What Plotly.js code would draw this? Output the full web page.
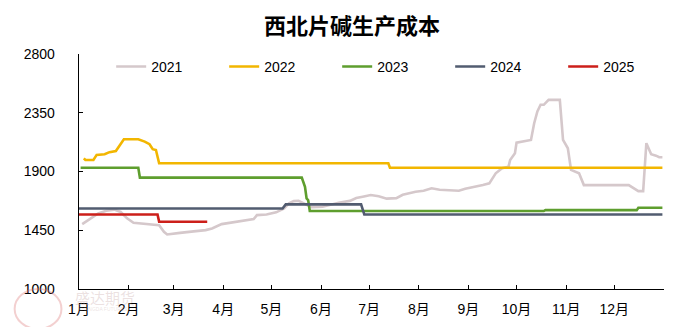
<!DOCTYPE html>
<html>
<head>
<meta charset="utf-8">
<script src="https://cdn.plot.ly/plotly-3.0.1.min.js"></script>
<style>
html,body{margin:0;padding:0;background:#fff;}
#chart{width:700px;height:327px;}
</style>
</head>
<body>
<div id="chart"></div>
<script>
// ---- data (dates as MM-DD, plotted on a common non-leap year) ----
const seriesNames = ['2021', '2022', '2023', '2024', '2025'];
const monthLabels = ['1月','2月','3月','4月','5月','6月','7月','8月','9月','10月','11月','12月',''];

const dates2021 = ['01-03','01-07','01-13','01-18','01-23','01-27','01-31','02-04','02-09','02-14','02-20','02-23','02-25',
  '03-05','03-09','03-15','03-21','03-25','03-31','04-05','04-10','04-15','04-20','04-22','04-28',
  '05-04','05-09','05-12','05-15','05-18','05-22','05-26','06-02','06-06','06-12','06-19','06-23','06-27',
  '07-02','07-07','07-12','07-18','07-22','07-26','07-30','08-04','08-09','08-14','08-20','08-26','08-30',
  '09-04','09-10','09-14','09-18','09-22','09-26','09-27','09-30','10-01','10-10','10-12','10-14','10-16','10-18',
  '10-21','10-28','10-30','11-02','11-04','11-09','11-12','12-10','12-16','12-19','12-21','12-24','12-27','12-29','12-31'];
const cost2021 = [1497,1528,1579,1599,1608,1590,1541,1507,1502,1497,1489,1438,1418,
  1430,1433,1443,1451,1464,1497,1507,1515,1522,1535,1566,1571,
  1587,1617,1656,1673,1676,1650,1627,1630,1643,1660,1675,1697,1707,
  1720,1710,1692,1696,1722,1733,1745,1752,1771,1760,1756,1753,1768,
  1779,1796,1809,1886,1925,1937,1988,2040,2121,2142,2270,2360,2411,2411,
  2449,2449,2142,2078,1912,1886,1796,1796,1750,1750,2117,2032,2021,2009,2009];

const dates2022 = ['01-04','01-05','01-10','01-12','01-17','01-20','01-24','01-26','01-29','02-07','02-11','02-14','02-16','02-18','02-20','07-13','07-14','12-31'];
const cost2022  = [2001,1988,1988,2027,2032,2048,2057,2091,2147,2147,2129,2109,2071,2065,1963,1963,1929,1929];

const dates2023 = ['01-02','02-07','02-08','05-20','05-22','05-23','05-24','05-25','10-18','10-19','12-15','12-16','12-31'];
const cost2023  = [1929,1929,1853,1853,1783,1694,1680,1597,1597,1604,1604,1622,1622];

const dates2024 = ['01-01','05-08','05-10','06-26','06-28','12-31'];
const cost2024  = [1617,1617,1648,1648,1571,1571];

const dates2025 = ['01-01','02-19','02-20','03-22'];
const cost2025  = [1571,1571,1515,1515];

const colors = ['#D5C8CB', '#F2B600', '#5E9E2E', '#525C70', '#CC1F1A'];

// ---- build ----
const baseYear = '2021-';
const allDates = [dates2021, dates2022, dates2023, dates2024, dates2025];
const allCosts = [cost2021, cost2022, cost2023, cost2024, cost2025];
const traces = seriesNames.map((n, i) => ({
  type: 'scatter', mode: 'lines', name: n,
  x: allDates[i].map(d => baseYear + d),
  y: allCosts[i],
  line: {color: colors[i], width: 2.6},
  hoverinfo: 'skip'
}));

const monthTicks = [];
for (let m = 1; m <= 12; m++) monthTicks.push('2021-' + String(m).padStart(2, '0') + '-01');
monthTicks.push('2022-01-01');

const font = 'Liberation Sans, Arial, sans-serif';
const layout = {
  width: 700, height: 327,
  margin: {l: 79, r: 36, t: 54, b: 38, pad: 0},
  paper_bgcolor: '#fff', plot_bgcolor: '#fff',
  showlegend: true,
  title: {text: '<b>西北片碱生产成本</b>', x: 0.503, xanchor: 'center', y: 0.92, yanchor: 'middle',
          font: {family: 'Noto Sans CJK SC, sans-serif', size: 22, color: '#000'}},
  xaxis: {
    type: 'date', range: ['2021-01-01', '2022-01-01'],
    tickmode: 'array', tickvals: monthTicks, ticktext: monthLabels,
    showline: true, linecolor: '#000', linewidth: 1.3,
    ticks: 'inside', ticklen: 4, tickcolor: '#000', tickwidth: 1,
    showgrid: false, zeroline: false, ticklabelstandoff: 7,
    tickfont: {family: 'Liberation Sans, Noto Sans CJK SC, sans-serif', size: 14, color: '#000'}
  },
  yaxis: {
    range: [1000, 2800], tickmode: 'array', tickvals: [1000, 1450, 1900, 2350, 2800],
    showline: true, linecolor: '#000', linewidth: 1.3,
    ticks: 'inside', ticklen: 4, tickcolor: '#000', tickwidth: 1,
    showgrid: false, zeroline: false, ticklabelstandoff: 20,
    tickfont: {family: font, size: 14, color: '#000'}
  },
  legend: {
    orientation: 'h', x: 0.055, xanchor: 'left', y: 0.945, yanchor: 'middle',
    bgcolor: 'rgba(0,0,0,0)', entrywidth: 68, entrywidthmode: 'pixels',
    font: {family: font, size: 14, color: '#000'}, traceorder: 'normal'
  },
  shapes: [
    {type: 'circle', xref: 'paper', yref: 'paper', x0: -0.11, x1: -0.03, y0: -0.17, y1: 0.0,
     line: {color: 'rgba(220,120,120,0.35)', width: 2}, fillcolor: 'rgba(0,0,0,0)'}
  ],
  annotations: [
    {text: '盛达期货', xref: 'paper', yref: 'paper', x: -0.01, y: -0.035, xanchor: 'left', yanchor: 'middle',
     showarrow: false, font: {family: 'Noto Sans CJK SC, sans-serif', size: 15, color: 'rgba(200,170,170,0.35)'}},
    {text: 'SHENGDA FUTURES', xref: 'paper', yref: 'paper', x: -0.005, y: -0.085, xanchor: 'left', yanchor: 'middle',
     showarrow: false, font: {family: font, size: 5, color: 'rgba(200,170,170,0.35)'}}
  ]
};

Plotly.newPlot('chart', traces, layout, {displayModeBar: false, staticPlot: true});
</script>
</body>
</html>
